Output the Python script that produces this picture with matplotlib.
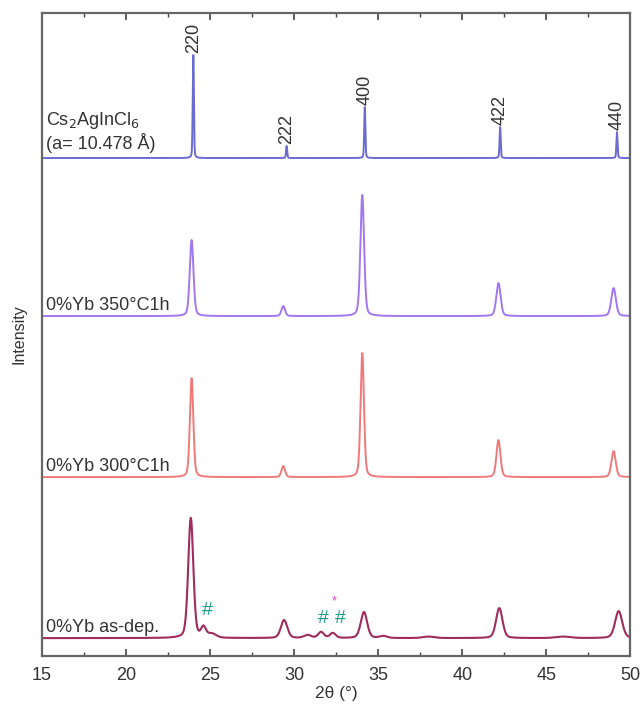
import numpy as np
import matplotlib
matplotlib.use("Agg")
import matplotlib.pyplot as plt
from matplotlib.ticker import MultipleLocator

plt.rcParams['font.family'] = ['Liberation Sans', 'DejaVu Sans']

# ---- data ----
ref_pos = [24.0, 29.55, 34.2, 42.25, 49.2]
ref_h = [103, 12, 51, 31, 26]
ref_hkl = ["220", "222", "400", "422", "440"]

a350_pos = [23.9, 29.35, 34.05, 42.15, 49.0]
a350_h = [76, 10, 121, 33, 28]

a300_pos = [23.9, 29.35, 34.05, 42.15, 49.0]
a300_h = [99, 11, 124, 37, 26]

dep_pos = [23.85, 24.6, 25.1, 29.4, 30.8, 31.6, 32.3, 34.15, 35.3, 38.0, 42.2, 46.0, 49.3]
dep_h = [120, 10, 4, 18, 3, 6, 5, 26, 2, 1.5, 30, 1.5, 27]
dep_w = [0.36, 0.35, 0.6, 0.45, 0.5, 0.4, 0.4, 0.45, 0.5, 0.8, 0.45, 1.0, 0.5]

labels = ["0%Yb 350°C1h", "0%Yb 300°C1h", "0%Yb as-dep."]
offsets = [498, 340, 179, 18]

hash_x = [24.82, 31.73, 32.74]
hash_y = [46, 38, 38]


def profile(x, pos, h, w):
    y = np.zeros_like(x)
    for p, a, f in zip(pos, h, w):
        g = np.exp(-4 * np.log(2) * ((x - p) / f) ** 2)
        l = 1.0 / (1 + 4 * ((x - p) / f) ** 2)
        y += a * (0.7 * g + 0.3 * l)
    return y


x = np.linspace(15, 50, 7001)
y_ref = profile(x, ref_pos, ref_h, [0.08] * 5)
y350 = profile(x, a350_pos, a350_h, [0.26, 0.25, 0.26, 0.3, 0.32])
y300 = profile(x, a300_pos, a300_h, [0.24, 0.25, 0.24, 0.28, 0.3])
ydep = profile(x, dep_pos, dep_h, dep_w)

fig = plt.figure(figsize=(6.41, 7.04), dpi=100)
ax = fig.add_axes([0.0655, 0.068, 0.918, 0.9135])

ax.plot(x, y_ref + offsets[0], color='#6b6bd0', lw=1.4)
ax.plot(x, y350 + offsets[1], color='#a277f0', lw=1.4)
ax.plot(x, y300 + offsets[2], color='#f07a7a', lw=1.4)
ax.plot(x, ydep + offsets[3], color='#9e2c5c', lw=1.5)

tc = '#333333'
for p, h, t in zip(ref_pos, ref_h, ref_hkl):
    ax.text(p, offsets[0] + h + 2, t, rotation=90, ha='center', va='bottom',
            fontsize=13, color=tc)

ax.text(15.25, 536, r"Cs$_2$AgInCl$_6$", fontsize=13, color=tc, va='center')
ax.text(15.25, 513, "(a= 10.478 Å)", fontsize=13, color=tc, va='center')

for lab, off in zip(labels, offsets[1:]):
    ax.text(15.25, off + 2, lab, fontsize=13, color=tc, va='bottom')

for hx, hy in zip(hash_x, hash_y):
    ax.text(hx, hy, "#", fontsize=14, color='#1a9a8a', ha='center', va='center')
ax.text(32.35, 55, "*", fontsize=9, color='#e040c0', ha='center', va='center')

ax.set_xlim(15, 50)
ax.set_ylim(0, 643)
ax.xaxis.set_major_locator(MultipleLocator(5))
ax.xaxis.set_minor_locator(MultipleLocator(2.5))
ax.set_yticks([])
ax.tick_params(axis='x', which='both', direction='in', top=True, bottom=True,
               colors='#444444', labelcolor=tc, labelsize=13, pad=8)
ax.tick_params(axis='x', which='major', length=5, width=1.2)
ax.tick_params(axis='x', which='minor', length=3, width=1.0)
for s in ax.spines.values():
    s.set_color('#666666')
    s.set_linewidth(1.6)

ax.set_xlabel("2θ (°)", fontsize=12.5, color=tc, labelpad=1)
ax.set_ylabel("Intensity", fontsize=11.5, color=tc, labelpad=11)

fig.savefig("out.png", dpi=100)
